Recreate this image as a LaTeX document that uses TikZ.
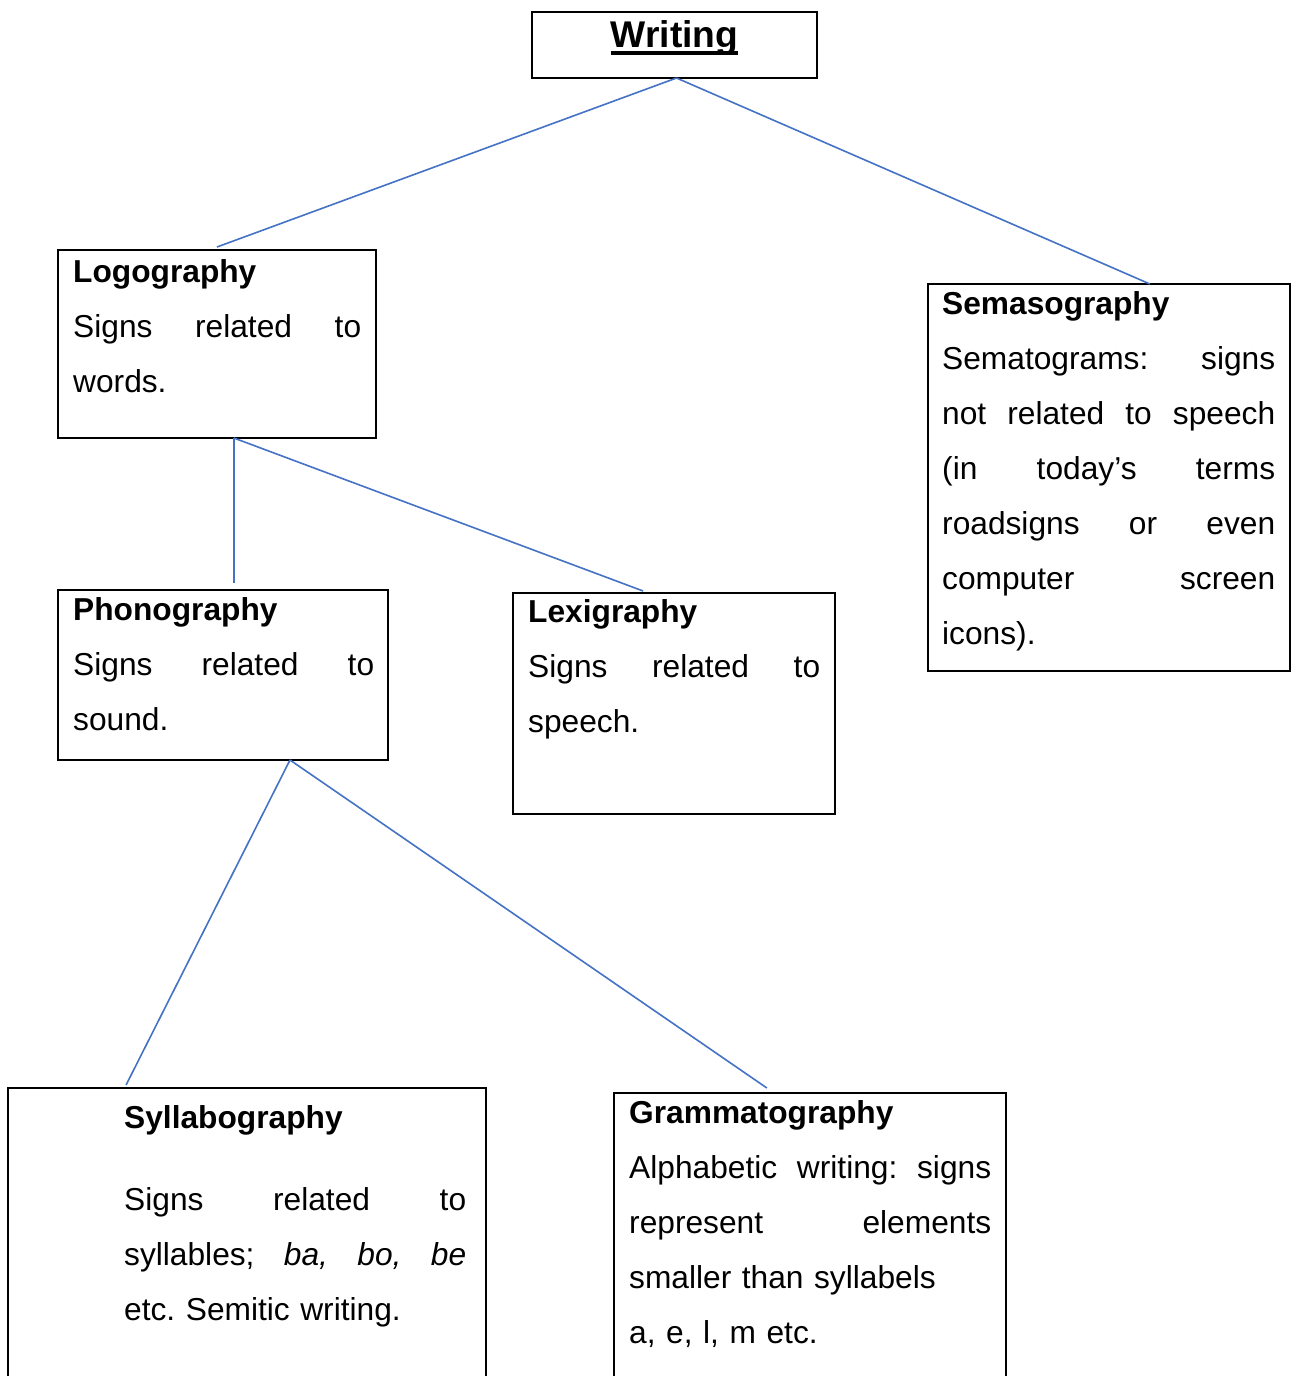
\documentclass[tikz,border=0pt]{standalone}
\usepackage{fontspec}
\setmainfont{Liberation Sans}
\usetikzlibrary{calc}
\definecolor{linkblue}{HTML}{4472C4}
\setlength\parskip{0pt}
\frenchspacing
\newcommand\jl[1]{\hbox to\linewidth{#1}}
\newcommand\thickul[1]{\setbox0\hbox{#1}\rlap{\vrule height -4pt depth 7.5pt width \wd0}\box0}
\begin{document}
\begin{tikzpicture}[x=1pt,y=-1pt,
  box/.style={draw, line width=2pt, anchor=north west, inner sep=0pt, outer sep=0pt},
  txt/.style={anchor=base west, inner sep=0pt, align=left, font=\fontsize{31.7}{55}\selectfont},
  link/.style={draw=linkblue, line width=1.6pt}]
\useasboundingbox (0,0) rectangle (1291,1376);
\clip (0,0) rectangle (1291,1376);
\fill[white] (0,0) rectangle (1291,1376);

% boxes
\node[box, minimum width=285, minimum height=66] (writing) at (532,12) {};
\node[box, minimum width=318, minimum height=188] (logo) at (58,250) {};
\node[box, minimum width=362, minimum height=387] (sema) at (928,284) {};
\node[box, minimum width=330, minimum height=170] (phono) at (58,590) {};
\node[box, minimum width=322, minimum height=221] (lexi) at (513,593) {};
\node[box, minimum width=478, minimum height=340] (sylla) at (8,1088) {};
\node[box, minimum width=392, minimum height=340] (gramm) at (614,1093) {};

% texts
\node[anchor=base, inner sep=0pt, font=\fontsize{37.2}{44}\selectfont\bfseries] (writingt) at (674.5,47) {\thickul{Writing}};
\node[txt, text width=288] (logot) at (73,282) {\textbf{Logography}\par\jl{Signs\hfill related\hfill to}\par words.};
\node[txt, text width=333] (semat) at (942,314) {\textbf{Semasography}\par
  \jl{Sematograms:\hfill signs}\par
  \jl{not\hfill related\hfill to\hfill speech}\par
  \jl{(in\hfill today’s\hfill terms}\par
  \jl{roadsigns\hfill or\hfill even}\par
  \jl{computer\hfill screen}\par
  icons).};
\node[txt, text width=301] (phonot) at (73,620) {\textbf{Phonography}\par\jl{Signs\hfill related\hfill to}\par sound.};
\node[txt, text width=292] (lexit) at (528,622) {\textbf{Lexigraphy}\par\jl{Signs\hfill related\hfill to}\par speech.};
\node[txt, text width=342] (syllat) at (124,1128) {\textbf{Syllabography}\par\vspace{27pt}
  \jl{Signs\hfill related\hfill to}\par
  \jl{syllables;\hfill \textit{ba,}\hfill \textit{bo,}\hfill \textit{be}}\par
  etc. Semitic writing.};
\node[txt, text width=362] (grammt) at (629,1123) {\textbf{Grammatography}\par
  \jl{Alphabetic\hfill writing:\hfill signs}\par
  \jl{represent\hfill elements}\par
  smaller than syllabels\par
  a, e, l, m etc.};

% connector points
\coordinate (wS) at ([xshift=2pt]writing.south);
\coordinate (semaN) at ($(sema.north west)!0.613!(sema.north east)$);
\coordinate (logoS) at ($(logo.south west)!0.553!(logo.south east)$);
\coordinate (lexiN) at ($(lexi.north west)!0.404!(lexi.north east)+(0,-2)$);
\coordinate (phonoS) at ($(phono.south west)!0.703!(phono.south east)$);
\coordinate (syllaN) at ($(sylla.north west)!0.247!(sylla.north east)+(0,-3)$);
\coordinate (grammN) at ($(gramm.north west)!0.390!(gramm.north east)+(0,-5)$);

\draw[link] (wS) -- ([yshift=3pt]logo.north);
\draw[link] (wS) -- (semaN);
\draw[link] (logoS) -- ([yshift=7pt]logoS |- phono.north);
\draw[link] (logoS) -- (lexiN);
\draw[link] (phonoS) -- (syllaN);
\draw[link] (phonoS) -- (grammN);
\end{tikzpicture}
\end{document}
